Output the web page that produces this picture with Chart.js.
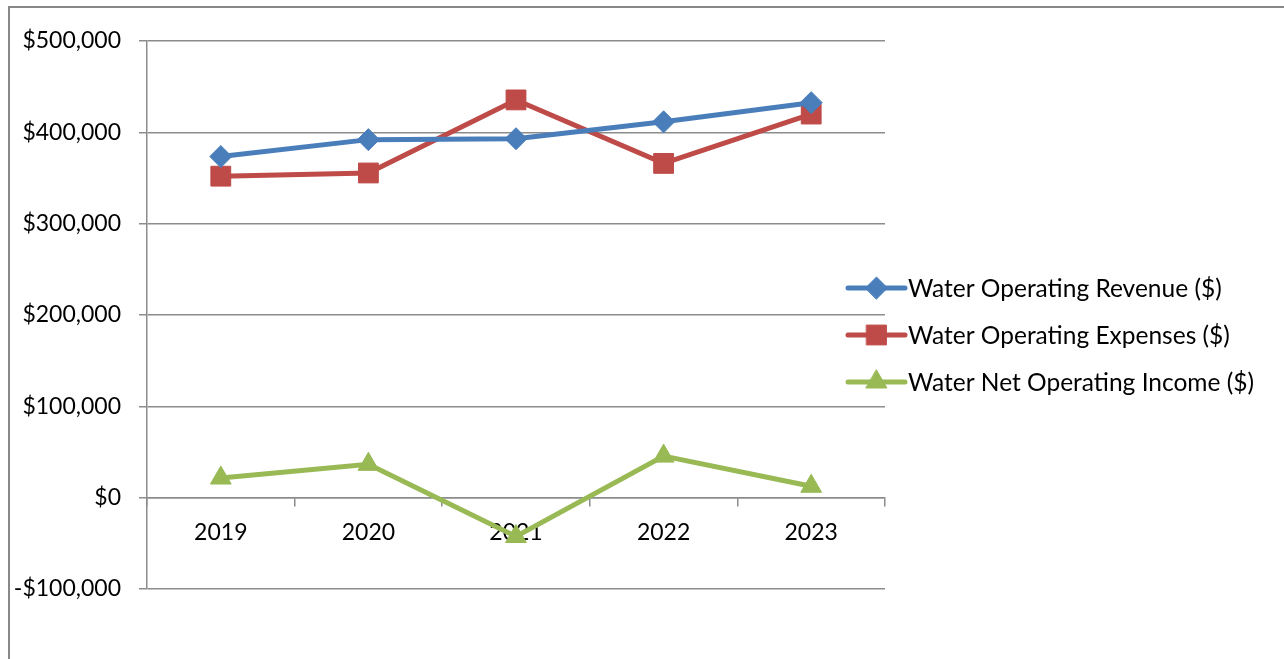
<!DOCTYPE html>
<html>
<head>
<meta charset="utf-8">
<script src="https://cdn.jsdelivr.net/npm/chart.js@4.4.1/dist/chart.umd.min.js"></script>
<style>
  html, body { margin: 0; padding: 0; background: #fff; overflow: hidden; }
  #frame { position: absolute; left: 8px; top: 6px; width: 1300px; height: 700px; border: 2px solid #888; }
  #wrap { position: absolute; left: 0; top: 0; width: 1284px; height: 659px; }
</style>
</head>
<body>
<div id="frame"></div>
<div id="wrap"><canvas id="myChart" width="1284" height="659"></canvas></div>
<script>
// Chart data
const years = ["2019", "2020", "2021", "2022", "2023"];
const revenue = [373500, 392000, 393000, 411500, 432500];
const expenses = [352000, 355500, 435500, 366000, 420000];
const netIncome = [21500, 36500, -42500, 45500, 12500];

const seriesNames = [
    "Water Operating Revenue ($)",
    "Water Operating Expenses ($)",
    "Water Net Operating Income ($)"
];

const axisMin = -100000, axisMax = 500000, axisStep = 100000;

const gridColor = "#8c8c8c";
const fontFamily = "Lato, 'Open Sans', sans-serif";

function money(v) {
    const s = "$" + Math.abs(v).toLocaleString("en-US");
    return v < 0 ? "-" + s : s;
}

// Legend drawn like the Excel one: short line with the marker in its middle
const legendPlugin = {
    id: "sideLegend",
    afterDraw(chart) {
        const ctx = chart.ctx;
        const x0 = 848, x1 = 905, rows = [288, 335, 382];
        chart.data.datasets.forEach((ds, i) => {
            const y = rows[i];
            ctx.save();
            ctx.strokeStyle = ds.borderColor;
            ctx.lineWidth = ds.borderWidth;
            ctx.lineCap = "round";
            ctx.beginPath();
            ctx.moveTo(x0, y);
            ctx.lineTo(x1, y);
            ctx.stroke();
            ctx.fillStyle = ds.pointBackgroundColor;
            ctx.strokeStyle = ds.pointBorderColor;
            ctx.lineWidth = 1;
            Chart.helpers.drawPoint(ctx, {
                pointStyle: ds.pointStyle,
                radius: ds.pointRadius,
                rotation: 0,
                borderWidth: 1
            }, (x0 + x1) / 2, y);
            ctx.fillStyle = "#000";
            ctx.font = "24.5px " + fontFamily;
            ctx.textBaseline = "middle";
            ctx.textAlign = "left";
            ctx.fillText(ds.label, 908, y + 1);
            ctx.restore();
        });
    }
};

function makeSeries(label, values, color, style, radius) {
    return {
        label: label,
        data: values,
        borderColor: color,
        backgroundColor: color,
        borderWidth: 5,
        pointStyle: style,
        pointRadius: radius,
        pointHoverRadius: radius,
        pointBackgroundColor: color,
        pointBorderColor: color,
        pointBorderWidth: 1,
        tension: 0
    };
}

new Chart("myChart", {
    type: "line",
    data: {
        labels: years,
        datasets: [
            makeSeries(seriesNames[0], revenue, "#4a7ebb", "rectRot", 11),
            makeSeries(seriesNames[1], expenses, "#be4b48", "rect", 14),
            makeSeries(seriesNames[2], netIncome, "#98b954", "triangle", 12)
        ]
    },
    options: {
        responsive: false,
        animation: false,
        events: [],
        layout: { padding: { left: 0, top: 41, right: 399, bottom: 70 } },
        plugins: {
            legend: { display: false },
            tooltip: { enabled: false }
        },
        scales: {
            x: {
                position: { y: 0 },
                offset: true,
                grid: {
                    offset: true,
                    drawOnChartArea: false,
                    drawTicks: true,
                    tickLength: 8,
                    color: gridColor,
                    lineWidth: 1.5
                },
                border: { color: gridColor, width: 1.5 },
                ticks: {
                    color: "#000",
                    padding: 13,
                    font: { family: fontFamily, size: 23 }
                }
            },
            y: {
                min: axisMin,
                max: axisMax,
                afterFit(scale) { scale.width = 147; },
                grid: {
                    color: gridColor,
                    lineWidth: 1.5,
                    tickLength: 8
                },
                border: { color: gridColor, width: 1.5 },
                ticks: {
                    stepSize: axisStep,
                    color: "#000",
                    padding: 18,
                    font: { family: fontFamily, size: 23 },
                    callback: (v) => money(v)
                }
            }
        }
    },
    plugins: [legendPlugin]
});
</script>
</body>
</html>
